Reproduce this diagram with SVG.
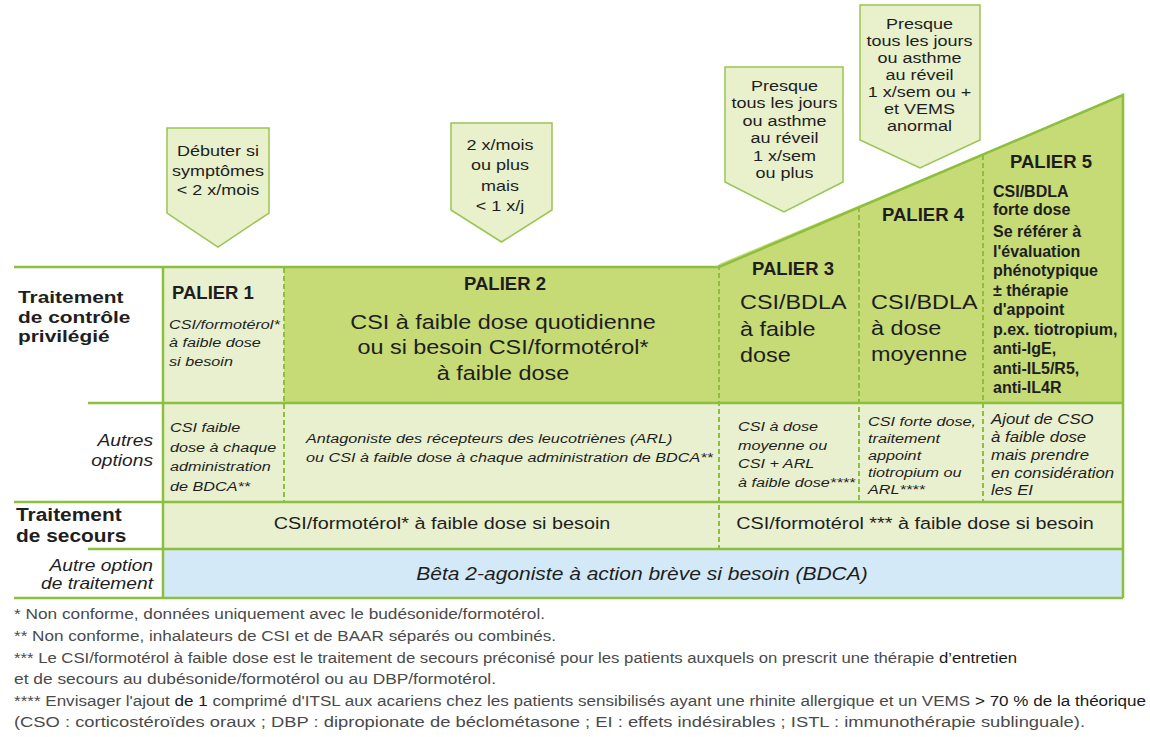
<svg xmlns="http://www.w3.org/2000/svg" width="1150" height="737" viewBox="0 0 1150 737">
<defs>
<style>
.t{font-family:"Liberation Sans",Arial,sans-serif;fill:#1e1e1e}
.b{font-weight:bold}
.i{font-style:italic}
.fn{font-family:"Liberation Sans",Arial,sans-serif;fill:#4a4a4a;font-size:14px}
.dk{fill:#1a1a1a}
.arrow{fill:#e8f0cc;stroke:#9cc452;stroke-width:1.5}
.light{fill:#e9f0cf}
.dark{fill:#c6da76}
.blue{fill:#d4e9f7}
.line{stroke:#8dbf3e;stroke-width:2.5;fill:none}
.dash{stroke:#8dbf3e;stroke-width:2;stroke-dasharray:5 3;fill:none}
</style>
</defs>
<rect width="1150" height="737" fill="#ffffff"/>

<!-- cells -->
<g id="palier1-controle">
<rect x="163" y="267" width="121" height="136" class="light"/>
<text class="t b" font-size="18.5" x="172" y="299">PALIER 1</text>
<text class="t i" font-size="13.5" transform="translate(169 0) scale(1.2 1)"><tspan x="0" y="329">CSI/formotérol*</tspan><tspan x="0" y="347.5">à faible dose</tspan><tspan x="0" y="366">si besoin</tspan></text>
</g>
<g id="palier2-controle">
<rect x="284" y="267" width="435" height="136" class="dark"/>
<text class="t b" font-size="18.5" x="505" y="290" text-anchor="middle">PALIER 2</text>
<text class="t" font-size="19.5" text-anchor="middle" transform="translate(503 0) scale(1.2 1)"><tspan x="0" y="329">CSI à faible dose quotidienne</tspan><tspan x="0" y="354">ou si besoin CSI/formotérol*</tspan><tspan x="0" y="380">à faible dose</tspan></text>
</g>
<g id="palier3-controle">
<polygon points="719,264 859,205.4 859,403 719,403" class="dark"/>
<text class="t b" font-size="18.5" x="793" y="275" text-anchor="middle">PALIER 3</text>
<text class="t" font-size="19.5" transform="translate(740 0) scale(1.2 1)"><tspan x="0" y="309">CSI/BDLA</tspan><tspan x="0" y="336">à faible</tspan><tspan x="0" y="362">dose</tspan></text>
</g>
<g id="palier4-controle">
<polygon points="859,205.4 983,153.6 983,403 859,403" class="dark"/>
<text class="t b" font-size="18.5" x="923" y="221" text-anchor="middle">PALIER 4</text>
<text class="t" font-size="19.5" transform="translate(871 0) scale(1.2 1)"><tspan x="0" y="309">CSI/BDLA</tspan><tspan x="0" y="335">à dose</tspan><tspan x="0" y="361">moyenne</tspan></text>
</g>
<g id="palier5-controle">
<polygon points="983,153.6 1123,95 1123,403 983,403" class="dark"/>
<text class="t b" font-size="18.5" x="1051" y="168" text-anchor="middle">PALIER 5</text>
<text class="t b" font-size="16" fill="#2a2a2a"><tspan x="993" y="197">CSI/BDLA</tspan><tspan x="993" y="215">forte dose</tspan><tspan x="993" y="237">Se référer à</tspan><tspan x="993" y="256.5">l'évaluation</tspan><tspan x="993" y="276">phénotypique</tspan><tspan x="993" y="295.5">± thérapie</tspan><tspan x="993" y="315">d'appoint</tspan><tspan x="993" y="334.5">p.ex. tiotropium,</tspan><tspan x="993" y="354">anti-IgE,</tspan><tspan x="993" y="373.5">anti-IL5/R5,</tspan><tspan x="993" y="393">anti-IL4R</tspan></text>
</g>

<g id="palier1-autres">
<rect x="163" y="403" width="121" height="99" class="light"/>
<text class="t i" font-size="13.5" transform="translate(170 0) scale(1.2 1)"><tspan x="0" y="432">CSI faible</tspan><tspan x="0" y="452">dose à chaque</tspan><tspan x="0" y="471.5">administration</tspan><tspan x="0" y="491">de BDCA**</tspan></text>
</g>
<g id="palier2-autres">
<rect x="284" y="403" width="435" height="99" class="light"/>
<text class="t i" font-size="13.5" transform="translate(306 0) scale(1.2 1)"><tspan x="0" y="443">Antagoniste des récepteurs des leucotriènes (ARL)</tspan><tspan x="0" y="462">ou CSI à faible dose à chaque administration de BDCA**</tspan></text>
</g>
<g id="palier3-autres">
<rect x="719" y="403" width="140" height="99" class="light"/>
<text class="t i" font-size="13.5" transform="translate(738 0) scale(1.2 1)"><tspan x="0" y="431">CSI à dose</tspan><tspan x="0" y="450">moyenne ou</tspan><tspan x="0" y="468">CSI + ARL</tspan><tspan x="0" y="487">à faible dose****</tspan></text>
</g>
<g id="palier4-autres">
<rect x="859" y="403" width="124" height="99" class="light"/>
<text class="t i" font-size="13.5" transform="translate(868 0) scale(1.2 1)"><tspan x="0" y="426">CSI forte dose,</tspan><tspan x="0" y="443.5">traitement</tspan><tspan x="0" y="460">appoint</tspan><tspan x="0" y="477">tiotropium ou</tspan><tspan x="0" y="494">ARL****</tspan></text>
</g>
<g id="palier5-autres">
<rect x="983" y="403" width="140" height="99" class="light"/>
<text class="t i" font-size="14" transform="translate(991 0) scale(1.2 1)"><tspan x="0" y="424">Ajout de CSO</tspan><tspan x="0" y="442.5">à faible dose</tspan><tspan x="0" y="460">mais prendre</tspan><tspan x="0" y="478">en considération</tspan><tspan x="0" y="495">les EI</tspan></text>
</g>

<g id="secours-paliers12">
<rect x="163" y="502" width="556" height="47" class="light"/>
<text class="t" font-size="16.5" fill="#3a3a3a" text-anchor="middle" transform="translate(442 0) scale(1.2 1)"><tspan x="0" y="529">CSI/formotérol* à faible dose <tspan class="dk">si</tspan> besoin</tspan></text>
</g>
<g id="secours-paliers345">
<rect x="719" y="502" width="404" height="47" class="light"/>
<text class="t" font-size="16.5" fill="#3a3a3a" text-anchor="middle" transform="translate(915 0) scale(1.2 1)"><tspan x="0" y="529">CSI/formotérol *** à faible dose <tspan class="dk">si</tspan> besoin</tspan></text>
</g>
<g id="autre-option-bdca">
<rect x="163" y="549" width="960" height="49" class="blue"/>
<text class="t i" font-size="17.5" text-anchor="middle" transform="translate(642 0) scale(1.2 1)"><tspan x="0" y="580">Bêta 2-agoniste à action brève si besoin (BDCA)</tspan></text>
</g>

<!-- row labels -->
<g id="label-controle">
<text class="t b" font-size="17.4" transform="translate(18 0) scale(1.2 1)"><tspan x="0" y="303.5">Traitement</tspan><tspan x="0" y="323">de contrôle</tspan><tspan x="0" y="342.5">privilégié</tspan></text>
</g>
<g id="label-autres-options">
<text class="t i" font-size="16" text-anchor="end" transform="translate(153 0) scale(1.2 1)"><tspan x="0" y="446">Autres</tspan><tspan x="0" y="466">options</tspan></text>
</g>
<g id="label-secours">
<text class="t b" font-size="18.5" transform="translate(16 0) scale(1.13 1)"><tspan x="0" y="521">Traitement</tspan><tspan x="0" y="542">de secours</tspan></text>
</g>
<g id="label-autre-option">
<text class="t i" font-size="16" text-anchor="end" transform="translate(153 0) scale(1.2 1)"><tspan x="0" y="571">Autre option</tspan><tspan x="0" y="589">de traitement</tspan></text>
</g>

<!-- grid lines -->
<g id="connectors">
<path class="line" d="M14 267 H719 L1123 95 V598"/>
<path class="line" d="M163 267 V598"/>
<path class="line" d="M88 403 H1123"/>
<path class="line" d="M14 502 H1123"/>
<path class="line" d="M88 549 H1123"/>
<path class="line" stroke-width="3" d="M14 598 H1123"/>
<path class="dash" d="M284 268 V502"/>
<path class="dash" d="M719 265 V549"/>
<path class="dash" d="M859 207 V502"/>
<path class="dash" d="M983 155 V502"/>
</g>

<!-- arrows -->
<g id="arrow-palier1">
<polygon class="arrow" points="167,128 269,128 269,213 218,247 167,213"/>
<text class="t" font-size="15" text-anchor="middle" transform="translate(218 0) scale(1.2 1)"><tspan x="0" y="156.5">Débuter si</tspan><tspan x="0" y="176">symptômes</tspan><tspan x="0" y="195">&lt; 2 x/mois</tspan></text>
</g>
<g id="arrow-palier2">
<polygon class="arrow" points="451,123 552,123 552,210 501.5,242 451,210"/>
<text class="t" font-size="15" text-anchor="middle" transform="translate(500 0) scale(1.2 1)"><tspan x="0" y="150.5">2 x/mois</tspan><tspan x="0" y="170.5">ou plus</tspan><tspan x="0" y="191">mais</tspan><tspan x="0" y="211">&lt; 1 x/j</tspan></text>
</g>
<g id="arrow-palier3">
<polygon class="arrow" points="725,67 843,67 843,182 784,212 725,182"/>
<text class="t" font-size="15" text-anchor="middle" transform="translate(784.5 0) scale(1.2 1)"><tspan x="0" y="91">Presque</tspan><tspan x="0" y="108.5">tous les jours</tspan><tspan x="0" y="126">ou asthme</tspan><tspan x="0" y="143.5">au réveil</tspan><tspan x="0" y="161">1 x/sem</tspan><tspan x="0" y="178">ou plus</tspan></text>
</g>
<g id="arrow-palier4">
<polygon class="arrow" points="860,5 980,5 980,140 920,168 860,140"/>
<text class="t" font-size="15" text-anchor="middle" transform="translate(919.5 0) scale(1.2 1)"><tspan x="0" y="29">Presque</tspan><tspan x="0" y="46">tous les jours</tspan><tspan x="0" y="63">ou asthme</tspan><tspan x="0" y="80">au réveil</tspan><tspan x="0" y="97">1 x/sem ou +</tspan><tspan x="0" y="114">et VEMS</tspan><tspan x="0" y="131">anormal</tspan></text>
</g>

<!-- footnotes -->
<g id="footnotes">
<text class="fn" x="14" y="619" textLength="531" lengthAdjust="spacingAndGlyphs">* Non conforme, données uniquement avec le budésonide/formotérol.</text>
<text class="fn" x="14" y="641" textLength="542" lengthAdjust="spacingAndGlyphs">** Non conforme, inhalateurs de CSI et de BAAR séparés ou combinés.</text>
<text class="fn" x="14" y="663" textLength="1003" lengthAdjust="spacingAndGlyphs">*** Le CSI/formotérol à faible dose est le traitement de secours préconisé pour les patients auxquels on prescrit une thérapie <tspan class="dk">d’entretien</tspan></text>
<text class="fn" x="14" y="684" textLength="482" lengthAdjust="spacingAndGlyphs">et de secours au dubésonide/formotérol ou au DBP/formotérol.</text>
<text class="fn" x="14" y="706" textLength="1132" lengthAdjust="spacingAndGlyphs">**** Envisager l'ajout <tspan class="dk">de 1</tspan> comprimé d'ITSL aux acariens chez les patients sensibilisés ayant une rhinite allergique et un VEMS <tspan class="dk">&gt; 70 % de la théorique</tspan></text>
<text class="fn" x="14" y="727" textLength="1071" lengthAdjust="spacingAndGlyphs" fill="#1e1e1e">(CSO : corticostéroïdes oraux ; DBP : dipropionate de béclométasone ; EI : effets indésirables ; ISTL : immunothérapie sublinguale).</text>
</g>
</svg>
